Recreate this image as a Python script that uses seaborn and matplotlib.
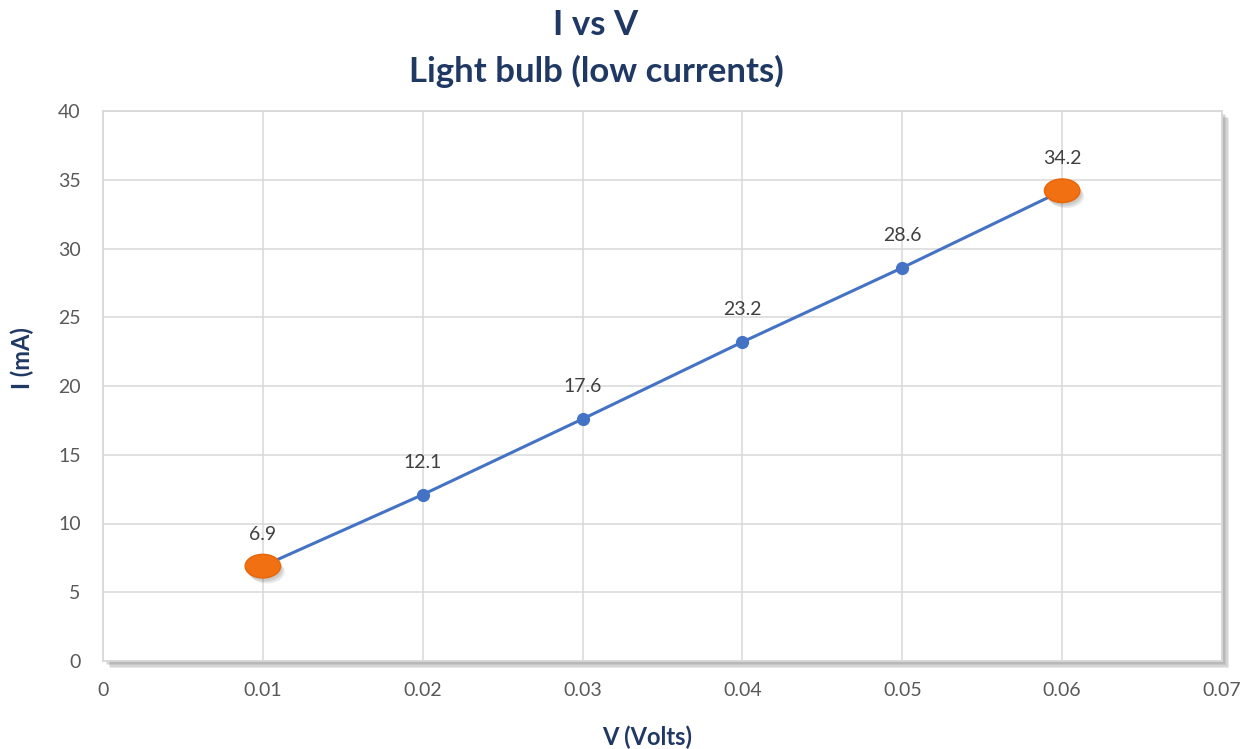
import numpy as np
import pandas as pd
import matplotlib
matplotlib.use("Agg")
import matplotlib.pyplot as plt
import matplotlib.patheffects as pe
from matplotlib.path import Path
from matplotlib.transforms import Affine2D
import seaborn as sns

voltage = [0.01, 0.02, 0.03, 0.04, 0.05, 0.06]
current = [6.9, 12.1, 17.6, 23.2, 28.6, 34.2]
highlight_idx = [0, 5]
x_ticks = [0, 0.01, 0.02, 0.03, 0.04, 0.05, 0.06, 0.07]
x_tick_labels = ["0", "0.01", "0.02", "0.03", "0.04", "0.05", "0.06", "0.07"]
y_ticks = [0, 5, 10, 15, 20, 25, 30, 35, 40]

sns.set_theme(style="white")
plt.rcParams["font.family"] = ["Lato", "DejaVu Sans"]

navy = "#1F3864"
blue = "#4472C4"
orange = "#F07012"
grid_c = "#D9D9D9"
tick_c = "#595959"

df = pd.DataFrame({"V": voltage, "I": current})

W, H = 1248, 749
fig = plt.figure(figsize=(W / 100, H / 100), dpi=100)
ax = fig.add_axes([103 / W, 1 - 661 / H, (1222 - 103) / W, (661 - 111) / H])

sns.lineplot(data=df, x="V", y="I", ax=ax, color=blue, linewidth=2.2,
             marker="o", markersize=9.5, markeredgewidth=0, zorder=3)

# wide ellipse marker for the end points
circle = Path.unit_circle()
ellipse = Path(Affine2D().scale(1.5, 1.0).transform(circle.vertices), circle.codes)
hl = df.iloc[highlight_idx]
soft_shadow = [pe.SimplePatchShadow(offset=(o, -o - 1), shadow_rgbFace="#404040", alpha=0.10)
               for o in (1, 2, 3)]
ax.plot(hl["V"], hl["I"], linestyle="none", marker=ellipse, markersize=25.5,
        color=orange, markeredgecolor="#E8650A", markeredgewidth=1, zorder=4,
        path_effects=soft_shadow + [pe.Normal()])

for x, y in zip(voltage, current):
    ax.annotate(f"{y:g}", (x, y), xytext=(0, 17), textcoords="offset points",
                ha="center", va="bottom", fontsize=14, color="#404040")

ax.set_xlim(0, 0.07)
ax.set_ylim(0, 40)
ax.set_xticks(x_ticks)
ax.set_xticklabels(x_tick_labels)
ax.set_yticks(y_ticks)
ax.set_xlabel("")
ax.set_ylabel("")
ax.grid(True, color=grid_c, linewidth=1.1)
ax.set_axisbelow(True)
ax.tick_params(axis="both", length=0, labelsize=14, labelcolor=tick_c)
ax.tick_params(axis="x", pad=15)
ax.tick_params(axis="y", pad=16)
for s in ax.spines.values():
    s.set_color(grid_c)
    s.set_linewidth(1.3)

frame_shadow = [pe.SimplePatchShadow(offset=(o, -o), shadow_rgbFace="#808080", alpha=0.18)
                for o in (2, 3, 4, 5)]
ax.patch.set_path_effects(frame_shadow + [pe.Normal()])

fig.text(647 / W, 1 - 737 / H, "V (Volts)", fontsize=17, fontweight="bold",
         color=navy, ha="center", va="center")
fig.text(22 / W, 1 - 358 / H, "I (mA)", fontsize=17, fontweight="bold",
         color=navy, ha="center", va="center", rotation=90)

fig.text(596 / W, 1 - 35 / H, "I vs V", fontsize=25, fontweight="bold",
         color=navy, ha="center", va="baseline")
fig.text(596 / W, 1 - 82 / H, "Light bulb (low currents)", fontsize=25, fontweight="bold",
         color=navy, ha="center", va="baseline")

fig.savefig("out.png", dpi=100)
